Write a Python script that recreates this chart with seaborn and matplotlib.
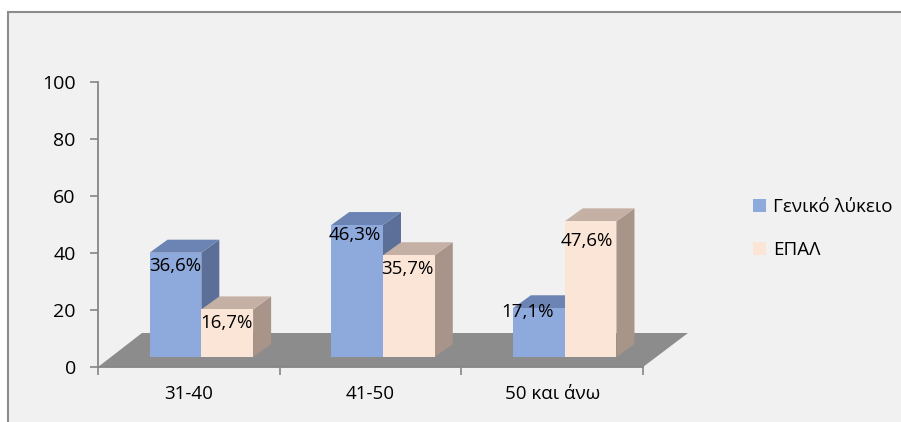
import matplotlib
matplotlib.use("Agg")
import matplotlib.pyplot as plt
import pandas as pd
import seaborn as sns
from matplotlib.patches import Polygon, Rectangle, Patch
from matplotlib.transforms import ScaledTranslation

# Data
categories = ["31-40", "41-50", "50 και άνω"]
series = ["Γενικό λύκειο", "ΕΠΑΛ"]
genl = [36.6, 46.3, 17.1]
epal = [16.7, 35.7, 47.6]
y_ticks = [0, 20, 40, 60, 80, 100]

sns.set_theme(style="white")
plt.rcParams["font.family"] = ["Open Sans", "DejaVu Sans"]

DPI = 100
W, H = 901, 422
fig = plt.figure(figsize=(W / DPI, H / DPI), dpi=DPI)
fig.patch.set_facecolor("white")

# chart area background with border on top/left
fig.patches.append(Rectangle((8 / W, -0.1), 1.0, (H - 12) / H + 0.1,
                             transform=fig.transFigure, facecolor="#f1f1f1",
                             edgecolor="#8c8c8c", lw=1.5, zorder=-10))

ax = fig.add_axes([98 / W, 55 / H, 545 / W, 285 / H])
ax.set_facecolor("none")

front_colors = {series[0]: "#8EA9DB", series[1]: "#FBE5D6"}
top_colors = {series[0]: "#6C84B3", series[1]: "#C4B0A4"}
side_colors = {series[0]: "#5B6F98", series[1]: "#A89488"}

df = pd.DataFrame({
    "cat": categories * 2,
    "ser": [series[0]] * len(categories) + [series[1]] * len(categories),
    "val": genl + epal,
})
sns.barplot(data=df, x="cat", y="val", hue="ser", hue_order=series,
            palette=front_colors, width=0.57, saturation=1, ax=ax,
            legend=False, linewidth=0, edgecolor="none")
# seaborn adds the bars hue level by hue level
bar_series = []
for p_i, p in enumerate(ax.patches):
    bar_series.append((p, series[p_i // len(categories)]))

ax.set_xlim(-0.5, 2.5)
ax.set_ylim(0, 100)

# pixel -> data conversion for the oblique projection
px_x = 545 / 3.0
px_y = 285 / 100.0

# floor
fdx0, fdx1, fdy = 44 / px_x, 45 / px_x, 34 / px_y
floor = Polygon([(-0.5, 0), (2.5, 0), (2.5 + fdx1, fdy), (-0.5 + fdx0, fdy)],
                closed=True, facecolor="#8c8c8c", edgecolor="none",
                clip_on=False, zorder=1)
ax.add_patch(floor)

# bars sit mid-depth on the floor
shift = ax.transData + ScaledTranslation(12.5 / DPI, 10 / DPI, fig.dpi_scale_trans)
ddx, ddy = 18 / px_x, 13 / px_y

label_nudge = {  # pixel nudges for the value labels (dx, dy)
    36.6: (0, -13), 16.7: (-1, -14), 46.3: (-2, -10),
    35.7: (-2, -14), 17.1: (-11, -4), 47.6: (-4, -20),
}

bar_series.sort(key=lambda t: t[0].get_x())
for i, (p, s) in enumerate(bar_series):
    x0, w, h = p.get_x(), p.get_width(), p.get_height()
    z = 3 + i * 3
    side = Polygon([(x0 + w, 0), (x0 + w + ddx, ddy), (x0 + w + ddx, h + ddy), (x0 + w, h)],
                   closed=True, facecolor=side_colors[s], edgecolor="none",
                   transform=shift, clip_on=False, zorder=z)
    top = Polygon([(x0, h), (x0 + w, h), (x0 + w + ddx, h + ddy), (x0 + ddx, h + ddy)],
                  closed=True, facecolor=top_colors[s], edgecolor="none",
                  transform=shift, clip_on=False, zorder=z)
    ax.add_patch(side)
    ax.add_patch(top)
    p.set_transform(shift)
    p.set_clip_on(False)
    p.set_zorder(z + 1)
    ndx, ndy = label_nudge.get(round(h, 1), (0, -13))
    ax.text(x0 + w / 2, h, f"{h:.1f}%".replace(".", ","),
            transform=shift + ScaledTranslation(ndx / DPI, ndy / DPI, fig.dpi_scale_trans),
            ha="center", va="center", fontsize=13.5, color="black", zorder=40)

# axes styling
for sp in ["top", "right"]:
    ax.spines[sp].set_visible(False)
for sp in ["left", "bottom"]:
    ax.spines[sp].set_color("#868686")
    ax.spines[sp].set_linewidth(1.3)
    ax.spines[sp].set_zorder(2)

ax.set_yticks(y_ticks)
ax.set_yticklabels([str(t) for t in y_ticks])
ax.set_xticks(range(len(categories)))
ax.set_xticklabels(categories)
ax.set_xticks([-0.5, 0.5, 1.5, 2.5], minor=True)
ax.tick_params(axis="y", which="major", direction="out", length=6, width=1.2,
               color="#868686", labelsize=14, pad=10, left=True, labelcolor="black")
ax.tick_params(axis="x", which="major", length=0, labelsize=13.5, pad=13, labelcolor="black")
ax.tick_params(axis="x", which="minor", direction="out", length=6, width=1.2,
               color="#868686", bottom=True)
ax.set_xlabel("")
ax.set_ylabel("")

handles = [Patch(facecolor=front_colors[s], edgecolor="none", label=s) for s in series]
fig.legend(handles=handles, loc="upper left", bbox_to_anchor=(736 / W, 1 - 181 / H),
           frameon=False, handlelength=0.72, handleheight=0.72, handletextpad=0.35,
           labelspacing=1.35, fontsize=13.5, labelcolor="black")

fig.savefig("out.png", dpi=DPI)
